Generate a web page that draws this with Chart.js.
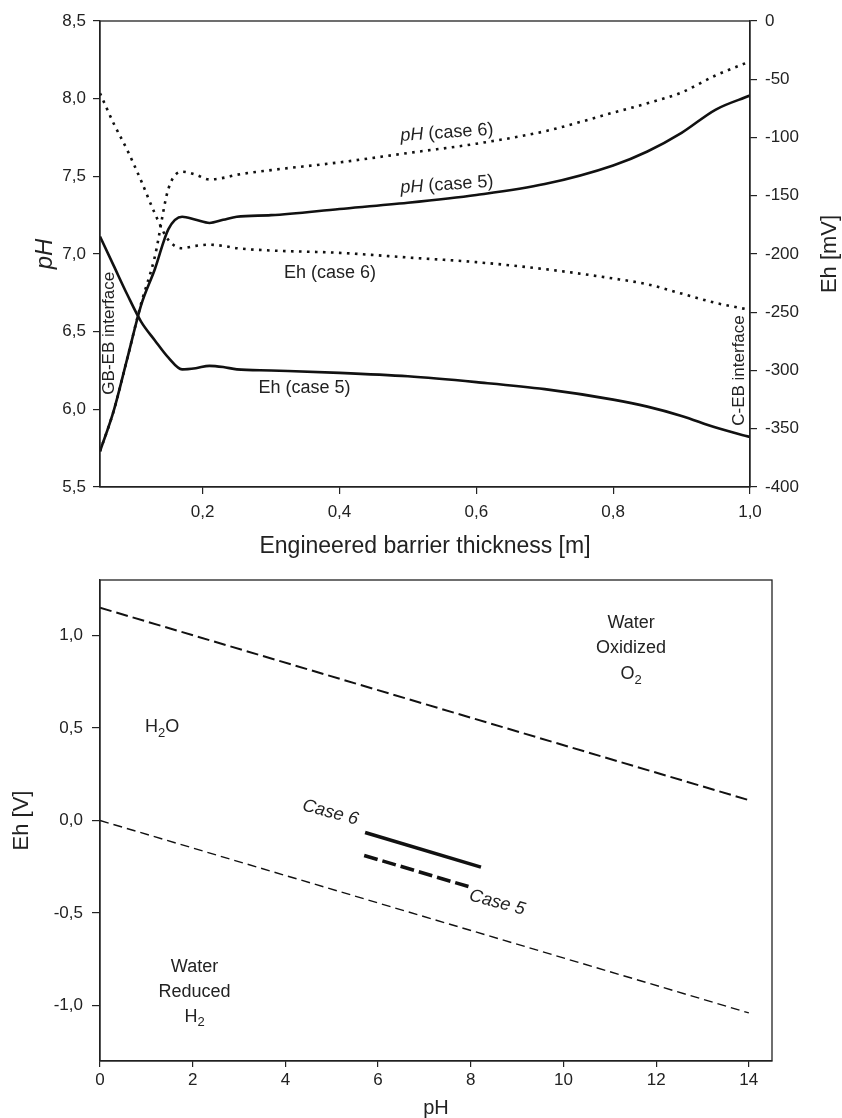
<!DOCTYPE html>
<html>
<head>
<meta charset="utf-8">
<script src="https://cdn.jsdelivr.net/npm/chart.js@4.4.1/dist/chart.umd.min.js"></script>
<style>
  html, body { margin: 0; padding: 0; background: #fff; }
  #wrap { position: relative; width: 842px; height: 1118px; }
  .box { position: absolute; left: 0; width: 842px; }
  #top { top: 0; height: 560px; }
  #bottom { top: 560px; height: 558px; }
</style>
</head>
<body>
<div id="wrap">
  <div class="box" id="top"><canvas id="profileChart"></canvas></div>
  <div class="box" id="bottom"><canvas id="ehphChart"></canvas></div>
</div>
<script>
// profiles across the engineered barrier (top chart)
const thickness = [0.05, 0.07, 0.09, 0.11, 0.13, 0.15, 0.17, 0.19, 0.21, 0.23, 0.25, 0.30, 0.40, 0.50, 0.60, 0.70, 0.80, 0.85, 0.90, 0.95, 1.00];
const phCase5 = [5.73, 5.99, 6.33, 6.67, 6.90, 7.16, 7.24, 7.22, 7.20, 7.22, 7.24, 7.25, 7.29, 7.33, 7.38, 7.45, 7.57, 7.66, 7.78, 7.93, 8.02];
const phCase6 = [5.73, 5.99, 6.33, 6.68, 6.98, 7.42, 7.53, 7.51, 7.48, 7.49, 7.51, 7.54, 7.59, 7.65, 7.71, 7.79, 7.91, 7.97, 8.04, 8.15, 8.24];
const ehCase5 = [-185, -210, -235, -258, -274, -289, -299, -298, -296, -297, -299, -300, -302, -305, -310, -316, -325, -331, -339, -349, -357];
const ehCase6 = [-62, -88, -111, -137, -165, -188, -195, -193, -192, -193, -195, -197, -199, -203, -207, -213, -221, -226, -234, -242, -248];
const thicknessTicks = [0.2, 0.4, 0.6, 0.8, 1.0];

// Eh-pH stability diagram (bottom chart)
const waterPh = [0, 14];
const waterOxidizedEh = [1.15, 0.11];
const waterReducedEh = [0.0, -1.04];
const case6Ph = [5.72, 8.22];
const case6Eh = [-0.065, -0.252];
const case5Ph = [5.70, 7.95];
const case5Eh = [-0.189, -0.357];
const diagramPhTicks = [0, 2, 4, 6, 8, 10, 12, 14];
const diagramEhTicks = [-1.0, -0.5, 0.0, 0.5, 1.0];

const FONT = "'Liberation Sans', Arial, Helvetica, sans-serif";
const INK = '#222';

const comma = (v, d) => v.toFixed(d).replace('.', ',');
const pts = (xs, ys) => xs.map((x, i) => ({ x: x, y: ys[i] }));
const fixTicks = (list) => (axis) => { axis.ticks = list.map(v => ({ value: v })); };

// text notes, positioned in data units of the chart's scales
function drawNote(chart, n) {
  const ctx = chart.ctx;
  const px = chart.scales[n.xAxis || 'x'].getPixelForValue(n.x);
  const py = chart.scales[n.yAxis || 'y'].getPixelForValue(n.y);
  const size = n.size || 18;
  const fontOf = (st) => {
    if (st === 'i') return 'italic ' + size + 'px ' + FONT;
    if (st === 's') return Math.round(size * 0.7) + 'px ' + FONT;
    return size + 'px ' + FONT;
  };
  ctx.save();
  ctx.translate(px, py);
  ctx.rotate((n.rot || 0) * Math.PI / 180);
  ctx.fillStyle = INK;
  ctx.textBaseline = 'middle';
  ctx.textAlign = 'left';
  let total = 0;
  n.parts.forEach(p => { ctx.font = fontOf(p[1]); total += ctx.measureText(p[0]).width; });
  let cx = -total / 2;
  n.parts.forEach(p => {
    ctx.font = fontOf(p[1]);
    ctx.fillText(p[0], cx, p[1] === 's' ? size * 0.32 : 0);
    cx += ctx.measureText(p[0]).width;
  });
  ctx.restore();
}

const notesPlugin = {
  id: 'notes',
  afterDatasetsDraw(chart) {
    (chart.config.options.notes || []).forEach(n => drawNote(chart, n));
  }
};

const framePlugin = {
  id: 'frame',
  afterDraw(chart) {
    const a = chart.chartArea;
    const ctx = chart.ctx;
    ctx.save();
    ctx.strokeStyle = INK;
    ctx.lineWidth = 1.3;
    ctx.strokeRect(a.left, a.top, a.right - a.left, a.bottom - a.top);
    const t = chart.config.options.sideTitle;
    if (t) {
      ctx.translate(a.right + t.offset, (a.top + a.bottom) / 2);
      ctx.rotate(-Math.PI / 2);
      ctx.font = t.size + 'px ' + FONT;
      ctx.fillStyle = INK;
      ctx.textAlign = 'center';
      ctx.textBaseline = 'middle';
      ctx.fillText(t.text, 0, 0);
    }
    ctx.restore();
  }
};

const axisLook = (tickLen) => ({
  grid: { drawOnChartArea: false, drawTicks: true, tickLength: tickLen, color: INK, lineWidth: 1.2 },
  border: { display: true, color: INK, width: 1.3 }
});

// ---- top chart ----
const solid = { borderColor: '#111', borderWidth: 2.6, pointRadius: 0, fill: false, cubicInterpolationMode: 'monotone' };
const dotted = Object.assign({}, solid, { borderWidth: 2.6, borderDash: [2.6, 5.4] });

new Chart(document.getElementById('profileChart').getContext('2d'), {
  type: 'line',
  data: {
    datasets: [
      Object.assign({ label: 'pH (case 5)', data: pts(thickness, phCase5), yAxisID: 'y' }, solid),
      Object.assign({ label: 'pH (case 6)', data: pts(thickness, phCase6), yAxisID: 'y' }, dotted),
      Object.assign({ label: 'Eh (case 5)', data: pts(thickness, ehCase5), yAxisID: 'y1' }, solid),
      Object.assign({ label: 'Eh (case 6)', data: pts(thickness, ehCase6), yAxisID: 'y1' }, dotted)
    ]
  },
  options: {
    responsive: true,
    maintainAspectRatio: false,
    animation: false,
    layout: { padding: { top: 21, left: 0, right: 0, bottom: 0 } },
    plugins: { legend: { display: false }, tooltip: { enabled: false } },
    scales: {
      x: Object.assign({
        type: 'linear', min: 0.05, max: 1.0,
        afterBuildTicks: fixTicks(thicknessTicks),
        afterFit: (a) => { a.height = 73; },
        ticks: { font: { family: FONT, size: 17 }, color: INK, padding: 8, maxRotation: 0, callback: (v) => comma(v, 1) },
        title: { display: true, text: 'Engineered barrier thickness [m]', color: INK, font: { family: FONT, size: 23, lineHeight: 1.2 }, padding: { top: 3, bottom: 0 } }
      }, axisLook(7)),
      y: Object.assign({
        position: 'left', min: 5.5, max: 8.5,
        afterFit: (a) => { a.width = 100; },
        ticks: { stepSize: 0.5, font: { family: FONT, size: 17 }, color: INK, padding: 7, callback: (v) => comma(v, 1) },
        title: { display: true, text: 'pH', color: INK, font: { family: FONT, size: 24, style: 'italic', lineHeight: 1.2 }, padding: { top: 31, bottom: 0 } }
      }, axisLook(7)),
      y1: Object.assign({
        position: 'right', min: -400, max: 0,
        afterFit: (a) => { a.width = 92; },
        ticks: { stepSize: 50, font: { family: FONT, size: 17 }, color: INK, padding: 8 }
      }, axisLook(7))
    },
    sideTitle: { text: 'Eh [mV]', size: 22, offset: 80 },
    notes: [
      { parts: [['pH', 'i'], [' (case 6)', '']], x: 0.557, y: 7.78, rot: -4, size: 18 },
      { parts: [['pH', 'i'], [' (case 5)', '']], x: 0.557, y: 7.445, rot: -4, size: 18 },
      { parts: [['Eh (case 6)', '']], x: 0.386, y: 6.878, size: 18 },
      { parts: [['Eh (case 5)', '']], x: 0.349, y: 6.138, size: 18 },
      { parts: [['GB-EB interface', '']], x: 0.063, y: 6.49, rot: -90, size: 17 },
      { parts: [['C-EB interface', '']], x: 0.984, y: 6.25, rot: -90, size: 17 }
    ]
  },
  plugins: [notesPlugin, framePlugin]
});

// ---- bottom chart ----
const thin = { borderColor: '#111', pointRadius: 0, fill: false, tension: 0 };

new Chart(document.getElementById('ehphChart').getContext('2d'), {
  type: 'line',
  data: {
    datasets: [
      Object.assign({ label: 'O2/H2O', data: pts(waterPh, waterOxidizedEh), borderWidth: 2, borderDash: [12, 5] }, thin),
      Object.assign({ label: 'H2O/H2', data: pts(waterPh, waterReducedEh), borderWidth: 1.4, borderDash: [9, 5] }, thin),
      Object.assign({ label: 'Case 6', data: pts(case6Ph, case6Eh), borderWidth: 3.6 }, thin),
      Object.assign({ label: 'Case 5', data: pts(case5Ph, case5Eh), borderWidth: 3.6, borderDash: [14, 5] }, thin)
    ]
  },
  options: {
    responsive: true,
    maintainAspectRatio: false,
    animation: false,
    layout: { padding: { top: 20, left: 0, right: 70, bottom: 0 } },
    plugins: { legend: { display: false }, tooltip: { enabled: false } },
    scales: {
      x: Object.assign({
        type: 'linear', min: 0, max: 14.5,
        afterBuildTicks: fixTicks(diagramPhTicks),
        afterFit: (a) => { a.height = 57; },
        ticks: { font: { family: FONT, size: 17 }, color: INK, padding: 3, maxRotation: 0 },
        title: { display: true, text: 'pH', color: INK, font: { family: FONT, size: 20, lineHeight: 1.0 }, padding: { top: 0, bottom: 0 } }
      }, axisLook(6)),
      y: Object.assign({
        min: -1.3, max: 1.3,
        afterBuildTicks: fixTicks(diagramEhTicks),
        afterFit: (a) => { a.width = 100; },
        ticks: { font: { family: FONT, size: 17 }, color: INK, padding: 9, callback: (v) => comma(v, 1) },
        title: { display: true, text: 'Eh [V]', color: INK, font: { family: FONT, size: 22, lineHeight: 1.2 }, padding: { top: 9, bottom: 0 } }
      }, axisLook(8))
    },
    notes: [
      { parts: [['Water', '']], x: 11.46, y: 1.066 },
      { parts: [['Oxidized', '']], x: 11.46, y: 0.931 },
      { parts: [['O', ''], ['2', 's']], x: 11.46, y: 0.79 },
      { parts: [['H', ''], ['2', 's'], ['O', '']], x: 1.34, y: 0.503 },
      { parts: [['Water', '']], x: 2.04, y: -0.79 },
      { parts: [['Reduced', '']], x: 2.04, y: -0.925 },
      { parts: [['H', ''], ['2', 's']], x: 2.04, y: -1.062 },
      { parts: [['Case 6', 'i']], x: 4.97, y: 0.043, rot: 15 },
      { parts: [['Case 5', 'i']], x: 8.57, y: -0.444, rot: 15 }
    ]
  },
  plugins: [notesPlugin, framePlugin]
});
</script>
</body>
</html>
